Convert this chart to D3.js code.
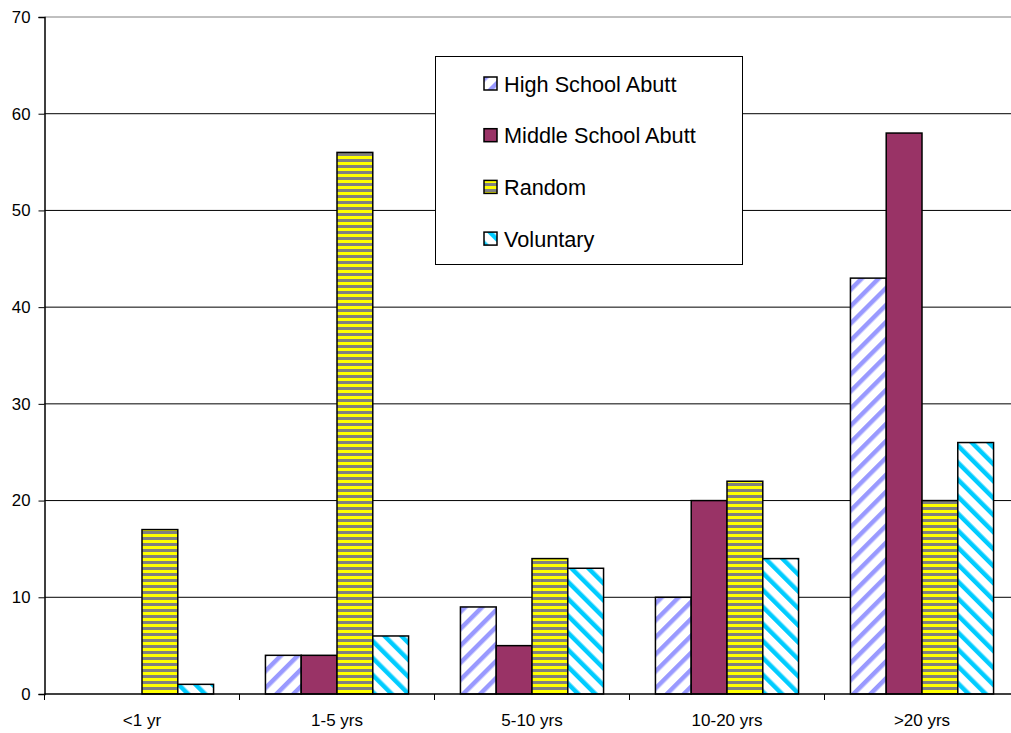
<!DOCTYPE html>
<html><head><meta charset="utf-8">
<script src="https://cdn.jsdelivr.net/npm/d3@7"></script>
<style>body{margin:0;background:#fff}svg{display:block;font-family:Arial,"Liberation Sans",sans-serif}</style>
</head><body>
<svg id="c" width="1011" height="733"></svg>
<script>
const categories = ["<1 yr","1-5 yrs","5-10 yrs","10-20 yrs",">20 yrs"];
const seriesNames = ["High School Abutt","Middle School Abutt","Random","Voluntary"];
const highSchool = [0,4,9,10,43];
const middleSchool = [0,4,5,20,58];
const random = [17,56,14,22,20];
const voluntary = [1,6,13,14,26];
const yTicks = [0,10,20,30,40,50,60,70];
const seriesValues = [highSchool, middleSchool, random, voluntary];

(function(){
const svg = d3.select("#c");
const defs = svg.append("defs");
const p1 = defs.append("pattern").attr("id","pHS").attr("patternUnits","userSpaceOnUse").attr("width",12).attr("height",12).attr("patternTransform","rotate(45)");
p1.append("rect").attr("width",12).attr("height",12).attr("fill","#fff");
p1.append("rect").attr("width",4.5).attr("height",12).attr("fill","#9999ff");
const p4 = defs.append("pattern").attr("id","pVol").attr("patternUnits","userSpaceOnUse").attr("width",12).attr("height",12).attr("patternTransform","rotate(-45)");
p4.append("rect").attr("width",12).attr("height",12).attr("fill","#fff");
p4.append("rect").attr("width",4.5).attr("height",12).attr("fill","#00ccff");
const p3 = defs.append("pattern").attr("id","pRand").attr("patternUnits","userSpaceOnUse").attr("width",8).attr("height",6);
p3.append("rect").attr("width",8).attr("height",6).attr("fill","#ffff00");
p3.append("rect").attr("y",3).attr("width",8).attr("height",3).attr("fill","#808080");
const fills = ["url(#pHS)","#993366","url(#pRand)","url(#pVol)"];

const mLeft = 44.5, mRight = 1019.5, mTop = 17, mBottom = 694;
const x0 = d3.scaleBand().domain(categories).range([mLeft,mRight]).paddingInner(0.266).paddingOuter(0.133);
const x1 = d3.scaleBand().domain(seriesNames).range([0,x0.bandwidth()]);
const y = d3.scaleLinear().domain([0,70]).range([mBottom,mTop]);

svg.append("g").selectAll("line").data(yTicks.filter(d=>d>0)).join("line")
  .attr("x1",mLeft).attr("x2",1011).attr("y1",d=>y(d)).attr("y2",d=>y(d))
  .attr("stroke",d=>d===70?"#808080":"#000").attr("stroke-width",1);

const g = svg.append("g");
categories.forEach((c,i)=>{
  seriesNames.forEach((s,j)=>{
    const v = seriesValues[j][i];
    if(v<=0) return;
    g.append("rect").attr("x",x0(c)+x1(s)).attr("y",y(v)).attr("width",x1.bandwidth()).attr("height",mBottom-y(v))
      .attr("fill",fills[j]).attr("stroke","#000").attr("stroke-width",1.5);
  });
});

const ya = svg.append("g").attr("transform",`translate(${mLeft},0)`)
  .call(d3.axisLeft(y).tickValues(yTicks).tickSize(6).tickPadding(8));
ya.select(".domain").attr("stroke","#000").attr("stroke-width",1.5);
ya.selectAll(".tick line").attr("stroke","#000");
ya.selectAll("text").attr("font-size",16.8).attr("fill","#000").attr("font-family","Arial,'Liberation Sans',sans-serif");

const xg = svg.append("g");
xg.append("line").attr("x1",mLeft).attr("x2",1011).attr("y1",mBottom).attr("y2",mBottom).attr("stroke","#000").attr("stroke-width",1.5);
const bounds = categories.map(c=>x0(c)-x0.step()*x0.paddingInner()/2);
bounds.push(mRight);
xg.selectAll("line.t").data(bounds).join("line").attr("class","t")
  .attr("x1",d=>d).attr("x2",d=>d).attr("y1",mBottom).attr("y2",mBottom+6).attr("stroke","#000");
xg.selectAll("text").data(categories).join("text")
  .attr("x",d=>x0(d)+x0.bandwidth()/2).attr("y",726).attr("text-anchor","middle")
  .attr("font-size",17).text(d=>d);

const lg = svg.append("g");
lg.append("rect").attr("x",435.5).attr("y",56.5).attr("width",307).attr("height",208).attr("fill","#fff").attr("stroke","#000");
seriesNames.forEach((s,j)=>{
  const yy = 84 + j*51.7;
  lg.append("rect").attr("x",484).attr("y",yy-7).attr("width",13).attr("height",13).attr("fill",fills[j]).attr("stroke","#000").attr("stroke-width",1.5);
  lg.append("text").attr("x",504).attr("y",yy+7.5).attr("font-size",21.7).text(s);
});
})();
</script>
</body></html>
